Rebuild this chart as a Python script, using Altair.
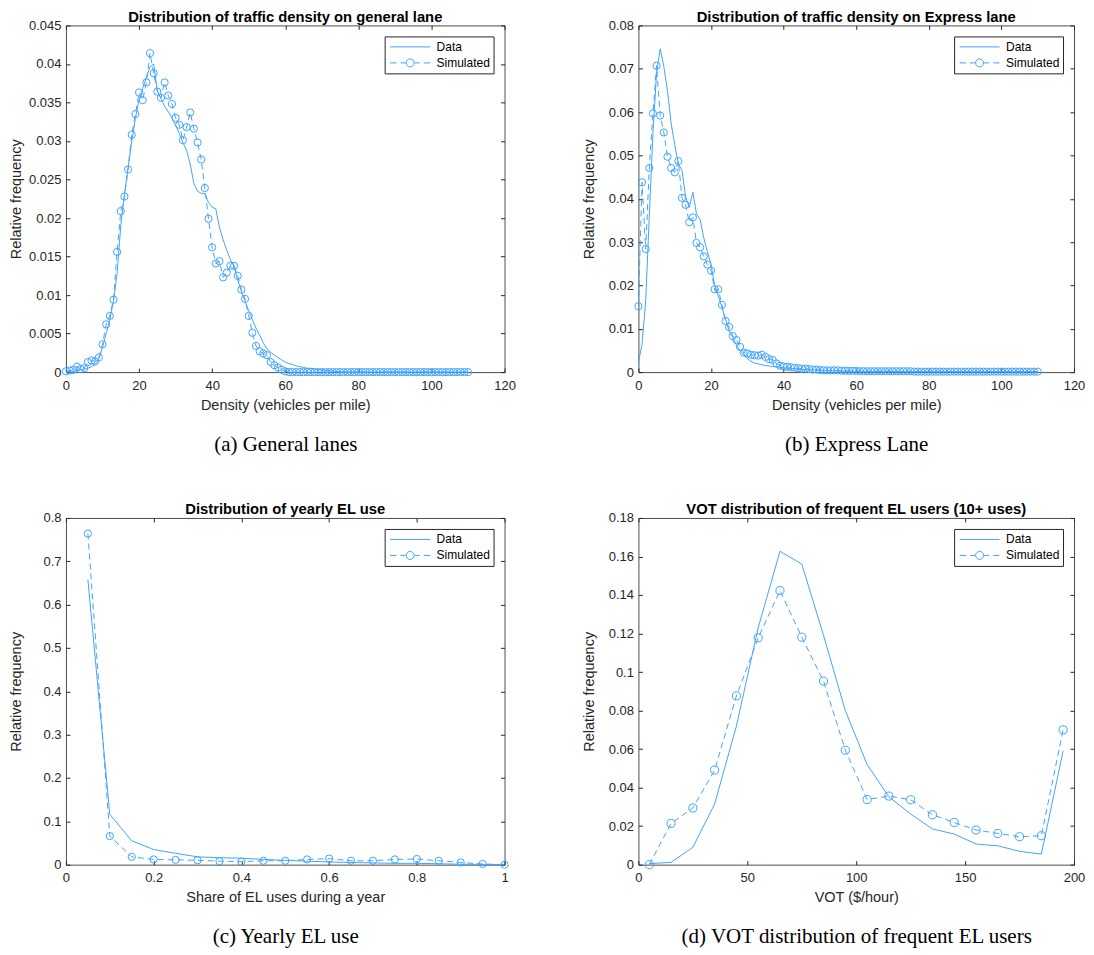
import altair as alt
import pandas as pd

FONT = "Liberation Sans"
SERIF = "Liberation Serif"
BLUE = "#40a4ff"
AX = "#262626"
BOX = "#4d4d4d"

SERIES = ["Data", "Simulated"]
PATH_DATA = "M-1,0H1"
PATH_SIM = ("M-1,0H-0.68M-0.48,0H-0.22M0.22,0H0.48M0.68,0H1"
            "M0.2,0A0.2,0.2,0,1,1,-0.2,0A0.2,0.2,0,1,1,0.2,0")

# ---------------- (a) general lanes ----------------
A_X = [0, 1, 2, 3, 4, 5, 6, 7, 8, 9,
       10, 11, 12, 13, 14, 15, 16, 17, 18, 19,
       20, 21, 22, 23, 24, 25, 26, 27, 28, 29,
       30, 31, 32, 33, 34, 35, 36, 37, 38, 39,
       40, 41, 42, 43, 44, 45, 46, 47, 48, 49,
       50, 51, 52, 53, 54, 55, 56, 57, 58, 59,
       60, 61, 62, 63, 64, 65, 66, 67, 68, 69,
       70, 71, 72, 73, 74, 75, 76, 77, 78, 79,
       80, 81, 82, 83, 84, 85, 86, 87, 88, 89,
       90, 91, 92, 93, 94, 95, 96, 97, 98, 99,
       100, 101, 102, 103, 104, 105, 106, 107, 108, 109, 110]
A_SIM = [0.0001, 0.0002, 0.0003, 0.0007, 0.0004, 0.0005, 0.0013, 0.0015, 0.0014, 0.0019,
         0.0036, 0.0062, 0.0073, 0.0094, 0.0156, 0.0209, 0.0228, 0.0263, 0.0308, 0.0335,
         0.0363, 0.0353, 0.0376, 0.0414, 0.0388, 0.0364, 0.0356, 0.0376, 0.0359, 0.0348,
         0.0330, 0.0321, 0.0301, 0.0318, 0.0337, 0.0316, 0.0298, 0.0276, 0.0239, 0.0199,
         0.0162, 0.0141, 0.0144, 0.0123, 0.0129, 0.0138, 0.0138, 0.0125, 0.0107, 0.0095,
         0.0073, 0.0051, 0.0034, 0.0027, 0.0024, 0.0022, 0.0013, 0.0009, 0.0006, 0.0003,
         0.0001, 0, 0, 0, 0, 0, 0, 0, 0, 0,
         0, 0, 0, 0, 0, 0, 0, 0, 0, 0,
         0, 0, 0, 0, 0, 0, 0, 0, 0, 0,
         0, 0, 0, 0, 0, 0, 0, 0, 0, 0,
         0, 0, 0, 0, 0, 0, 0, 0, 0, 0, 0]
A_DATA = [0.0000, 0.0001, 0.0001, 0.0002, 0.0003, 0.0004, 0.0005, 0.0007, 0.0010, 0.0017,
          0.0032, 0.0050, 0.0068, 0.0092, 0.0128, 0.0190, 0.0230, 0.0266, 0.0299, 0.0329,
          0.0353, 0.0368, 0.0383, 0.0396, 0.0400, 0.0365, 0.0355, 0.0345, 0.0338, 0.0330,
          0.0320, 0.0310, 0.0298, 0.0288, 0.0270, 0.0245, 0.0235, 0.0232, 0.0232, 0.0220,
          0.0214, 0.0212, 0.0188, 0.0172, 0.0158, 0.0146, 0.0137, 0.0120, 0.0105, 0.0092,
          0.0080, 0.0068, 0.0057, 0.0048, 0.0038, 0.0030, 0.0026, 0.0022, 0.0019, 0.0016,
          0.0013, 0.0011, 0.0010, 0.0008, 0.0007, 0.0006, 0.0005, 0.0005, 0.0004, 0.0003,
          0.0003, 0.0002, 0.0002, 0.0001, 0.0001, 0, 0, 0, 0, 0,
          0, 0, 0, 0, 0, 0, 0, 0, 0, 0,
          0, 0, 0, 0, 0, 0, 0, 0, 0, 0,
          0, 0, 0, 0, 0, 0, 0, 0, 0, 0, 0]
A_XTICKS = [0, 20, 40, 60, 80, 100, 120]
A_YTICKS = [0, 0.005, 0.01, 0.015, 0.02, 0.025, 0.03, 0.035, 0.04, 0.045]

# ---------------- (b) express lane ----------------
B_X = A_X
B_SIM = [0.0152, 0.0438, 0.0284, 0.0471, 0.0597, 0.0707, 0.0592, 0.0553, 0.0497, 0.0471,
         0.0461, 0.0487, 0.0402, 0.0386, 0.0346, 0.0357, 0.0298, 0.0288, 0.0267, 0.0248,
         0.0234, 0.0191, 0.0191, 0.0155, 0.0118, 0.0104, 0.0083, 0.0074, 0.0058, 0.0045,
         0.0043, 0.0040, 0.0039, 0.0038, 0.0040, 0.0035, 0.0030, 0.0028, 0.0020, 0.0015,
         0.0013, 0.0012, 0.0011, 0.0010, 0.0009, 0.0008, 0.0008, 0.0007, 0.0006, 0.0006,
         0.0005, 0.0004, 0.0004, 0.0004, 0.0004, 0.0004, 0.0003, 0.0003, 0.0003, 0.0003,
         0.0003, 0.0002, 0.0002, 0.0002, 0.0002, 0.0002, 0.0002, 0.0002, 0.0002, 0.0002,
         0.0002, 0.0002, 0.0002, 0.0002, 0.0002, 0.0002, 0.0001, 0.0001, 0.0001, 0.0001,
         0.0001, 0.0001, 0.0001, 0.0001, 0.0001, 0.0001, 0.0001, 0.0001, 0.0001, 0.0001,
         0.0001, 0.0001, 0.0001, 0.0001, 0.0001, 0.0001, 0.0001, 0.0001, 0.0001, 0.0001,
         0.0001, 0.0001, 0.0001, 0.0001, 0.0001, 0.0001, 0.0001, 0.0001, 0.0001, 0.0001, 0.0001]
B_DATA = [0.0022, 0.0064, 0.0164, 0.0360, 0.0550, 0.0690, 0.0746, 0.0705, 0.0650, 0.0575,
          0.0525, 0.0480, 0.0466, 0.0405, 0.0380, 0.0415, 0.0365, 0.0352, 0.0310, 0.0278,
          0.0248, 0.0200, 0.0175, 0.0150, 0.0122, 0.0095, 0.0080, 0.0062, 0.0050, 0.0040,
          0.0031, 0.0025, 0.0021, 0.0019, 0.0017, 0.0015, 0.0014, 0.0013, 0.0012, 0.0011,
          0.0010, 0.0009, 0.0008, 0.0008, 0.0007, 0.0006, 0.0006, 0.0005, 0.0005, 0.0005,
          0.0004, 0.0004, 0.0003, 0.0003, 0.0003, 0.0003, 0.0002, 0.0002, 0.0002, 0.0002,
          0.0002, 0.0002, 0.0002, 0.0002, 0.0002, 0.0002, 0.0002, 0.0002, 0.0002, 0.0002,
          0.0002, 0.0001, 0.0001, 0.0001, 0.0001, 0.0001, 0.0001, 0.0001, 0.0001, 0.0001,
          0.0001, 0.0001, 0.0001, 0.0001, 0.0001, 0.0001, 0.0001, 0.0001, 0.0001, 0.0001,
          0.0001, 0.0001, 0.0001, 0.0001, 0.0001, 0.0001, 0.0001, 0.0001, 0.0001, 0.0001,
          0.0001, 0.0001, 0.0001, 0.0001, 0.0001, 0.0001, 0.0001, 0.0001, 0.0001, 0.0001, 0.0001]
B_XTICKS = [0, 20, 40, 60, 80, 100, 120]
B_YTICKS = [0, 0.01, 0.02, 0.03, 0.04, 0.05, 0.06, 0.07, 0.08]

# ---------------- (c) yearly EL use ----------------
C_X = [0.05, 0.1, 0.15, 0.2, 0.25, 0.3, 0.35, 0.4, 0.45, 0.5,
       0.55, 0.6, 0.65, 0.7, 0.75, 0.8, 0.85, 0.9, 0.95, 1.0]
C_SIM = [0.764, 0.066, 0.018, 0.012, 0.011, 0.010, 0.008, 0.007, 0.009, 0.009,
         0.012, 0.014, 0.009, 0.009, 0.012, 0.013, 0.009, 0.005, 0.0015, 0.0]
C_DATA = [0.658, 0.116, 0.055, 0.035, 0.026, 0.018, 0.016, 0.015, 0.012, 0.010,
          0.008, 0.006, 0.005, 0.004, 0.003, 0.003, 0.002, 0.001, 0.0005, 0.0]
C_XTICKS = [0, 0.2, 0.4, 0.6, 0.8, 1]
C_YTICKS = [0, 0.1, 0.2, 0.3, 0.4, 0.5, 0.6, 0.7, 0.8]

# ---------------- (d) VOT of frequent EL users ----------------
D_X = [5, 15, 25, 35, 45, 55, 65, 75, 85, 95,
       105, 115, 125, 135, 145, 155, 165, 175, 185, 195]
D_SIM = [0.0, 0.0214, 0.0294, 0.0491, 0.0876, 0.1178, 0.1423, 0.1181, 0.0953, 0.0594,
         0.0338, 0.0356, 0.0337, 0.0259, 0.0219, 0.0180, 0.0162, 0.0145, 0.0150, 0.0700]
D_DATA = [0.0005, 0.0012, 0.0090, 0.0315, 0.0720, 0.1230, 0.1627, 0.1561, 0.1190, 0.0800,
          0.0520, 0.0352, 0.0263, 0.0185, 0.0159, 0.0107, 0.0098, 0.0069, 0.0055, 0.0591]
D_XTICKS = [0, 50, 100, 150, 200]
D_YTICKS = [0, 0.02, 0.04, 0.06, 0.08, 0.1, 0.12, 0.14, 0.16, 0.18]

W_LEFT, W_RIGHT, H = 439, 436, 347


def tick_axis(orient, values, **kw):
    d = dict(orient=orient, values=values, labels=False, domain=False, grid=False,
             ticks=True, tickSize=4, tickWidth=1, tickColor=AX, offset=-4,
             minExtent=0, maxExtent=0, title=None)
    d.update(kw)
    return alt.Axis(**d)


def panel(x_data, y_data, x_sim, y_sim, x_dom, y_dom, x_ticks, y_ticks,
          title, x_title, caption, pt_size, width):
    df_data = pd.DataFrame({"x": x_data, "y": y_data})
    df_sim = pd.DataFrame({"x": x_sim, "y": y_sim})
    df_leg = pd.DataFrame({"series": SERIES})
    xs = alt.Scale(domain=x_dom, nice=False, zero=False)
    ys = alt.Scale(domain=y_dom, nice=False, zero=False)

    data_line = alt.Chart(df_data).mark_line(color=BLUE, strokeWidth=1).encode(
        x=alt.X("x:Q", scale=xs, axis=alt.Axis(
            orient="bottom", values=x_ticks, format="~r", ticks=False, domain=False,
            grid=False, labelFont=FONT, labelFontSize=13, labelColor=AX,
            labelPadding=7, labelFlush=False, labelOverlap=False,
            title=x_title, titleFont=FONT, titleFontSize=14.5, titleFontWeight="normal",
            titleColor=AX, titleY=37, titleBaseline="alphabetic")),
        y=alt.Y("y:Q", scale=ys, axis=alt.Axis(
            orient="left", values=y_ticks, format="~r", ticks=False, domain=False,
            grid=False, labelFont=FONT, labelFontSize=13, labelColor=AX,
            labelPadding=5, labelFlush=False, labelOverlap=False,
            minExtent=38, maxExtent=38,
            title="Relative frequency", titleFont=FONT, titleFontSize=14.5,
            titleFontWeight="normal", titleColor=AX, titlePadding=4)),
    )
    sim_line = alt.Chart(df_sim).mark_line(color=BLUE, strokeWidth=1, strokeDash=[6, 4]).encode(
        x=alt.X("x:Q", scale=xs, axis=tick_axis(
            "bottom", x_ticks, title=caption, titleFont=SERIF, titleFontSize=21,
            titleFontWeight="normal", titleColor="black", titleY=82,
            titleBaseline="alphabetic")),
        y=alt.Y("y:Q", scale=ys, axis=tick_axis("left", y_ticks)),
    )
    sim_pts = alt.Chart(df_sim).mark_point(
        shape="circle", filled=False, color=BLUE, size=pt_size, strokeWidth=1, opacity=1
    ).encode(
        x=alt.X("x:Q", scale=xs, axis=tick_axis("top", x_ticks)),
        y=alt.Y("y:Q", scale=ys, axis=tick_axis("right", y_ticks)),
    )
    legend_layer = alt.Chart(df_leg).mark_point(opacity=0, filled=False, color=BLUE).encode(
        shape=alt.Shape("series:N",
                        scale=alt.Scale(domain=SERIES, range=[PATH_DATA, PATH_SIM]),
                        legend=alt.Legend(
                            title=None, orient="top-right", offset=11,
                            strokeColor=AX, fillColor="white", padding=3,
                            rowPadding=1, clipHeight=15, symbolSize=1600,
                            symbolStrokeWidth=1, symbolStrokeColor=BLUE,
                            symbolFillColor="transparent", symbolOpacity=1,
                            symbolOffset=2, labelOffset=6, labelFont=FONT,
                            labelFontSize=12, labelColor="black", labelLimit=300,
                            cornerRadius=0)),
    )
    return alt.layer(data_line, sim_line, sim_pts, legend_layer).resolve_axis(
        x="independent", y="independent"
    ).properties(
        width=width, height=H,
        title=alt.TitleParams(text=title, font=FONT, fontSize=14.8, fontWeight="bold",
                              color="black", anchor="middle", frame="group", offset=-5),
    )


pa = panel(A_X, A_DATA, A_X, A_SIM, [0, 120], [0, 0.045], A_XTICKS, A_YTICKS,
           "Distribution of traffic density on general lane",
           "Density (vehicles per mile)", "(a)  General lanes", 52, W_LEFT)
pb = panel(B_X, B_DATA, B_X, B_SIM, [0, 120], [0, 0.08], B_XTICKS, B_YTICKS,
           "Distribution of traffic density on Express lane",
           "Density (vehicles per mile)", "(b)  Express Lane", 52, W_RIGHT)
pc = panel(C_X, C_DATA, C_X, C_SIM, [0, 1], [0, 0.8], C_XTICKS, C_YTICKS,
           "Distribution of yearly EL use",
           "Share of EL uses during a year", "(c)  Yearly EL use", 52, W_LEFT)
pd_ = panel(D_X, D_DATA, D_X, D_SIM, [0, 200], [0, 0.18], D_XTICKS, D_YTICKS,
            "VOT distribution of frequent EL users (10+ uses)",
            "VOT ($/hour)", "(d)  VOT distribution of frequent EL users", 66, W_RIGHT)

chart = alt.concat(
    pa, pb, pc, pd_, columns=2, spacing={"row": 146, "column": 134}, bounds="flush"
).resolve_scale(shape="independent").resolve_legend(shape="independent").properties(
    padding={"left": 0, "top": 0, "right": 0, "bottom": 0}
).configure_view(stroke=BOX, strokeWidth=1)

chart.save("out.html", embed_options={"renderer": "svg", "actions": False})
